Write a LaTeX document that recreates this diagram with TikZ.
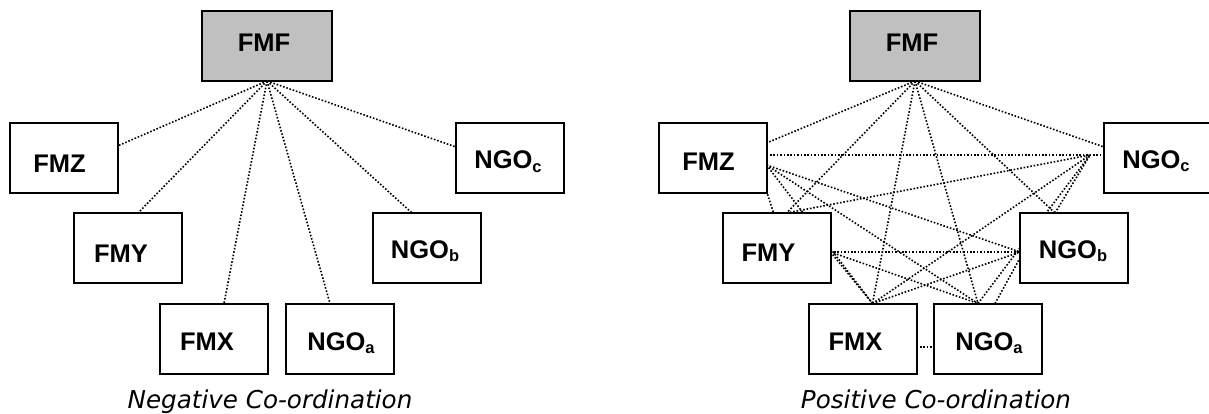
\documentclass[tikz,border=0pt]{standalone}
\usepackage{fontspec}
\setmainfont{Liberation Sans}
\newfontfamily\captionfont{DejaVu Sans}
\usetikzlibrary{calc}
\pgfdeclarelayer{links}
\pgfsetlayers{links,main}
\definecolor{fmfgray}{RGB}{192,192,192}
\tikzset{
  box/.style={draw=black, line width=2pt, fill=white, minimum width=108pt,
    minimum height=70pt, inner sep=0pt, outer sep=0pt},
  topbox/.style={box, fill=fmfgray, minimum width=130pt},
  lab/.style={font=\fontsize{25.5}{27}\selectfont\bfseries, anchor=base, inner sep=0pt},
  link/.style={line width=1.6pt, dash pattern=on 1.6pt off 1.8pt},
  captiontext/.style={font=\captionfont\itshape\fontsize{24.6}{27}\selectfont, anchor=base, inner sep=0pt}
}
\newcommand\lowsub[1]{\raisebox{-3pt}{\fontsize{16.5}{17}\selectfont #1}}
\begin{document}
\begin{tikzpicture}[x=1pt,y=-1pt]
\useasboundingbox (0,0) rectangle (1209,414);
\clip (0,0) rectangle (1209,414);

% ---------- negative co-ordination ----------
\node[topbox] (lF) at (267,46) {};
\node[box] (lZ) at (63.5,158) {};
\node[box] (lY) at (128,248) {};
\node[box] (lX) at (214,338.5) {};
\node[box] (lA) at (340,338.5) {};
\node[box] (lB) at (427,248) {};
\node[box] (lC) at (510,158) {};

\node[lab] (lFt) at ([shift={(-3pt,-6pt)}]lF.center) {FMF};
\node[lab] (lZt) at ([shift={(-4pt,-14pt)}]lZ.center) {FMZ};
\node[lab] (lYt) at ([shift={(-7pt,-14pt)}]lY.center) {FMY};
\node[lab] (lXt) at ([shift={(-7pt,-11.5pt)}]lX.center) {FMX};
\node[lab] (lAt) at ([shift={(1pt,-11.5pt)}]lA.center) {NGO\lowsub{a}};
\node[lab] (lBt) at ([shift={(-2pt,-10.5pt)}]lB.center) {NGO\lowsub{b}};
\node[lab] (lCt) at ([shift={(-2pt,-11pt)}]lC.center) {NGO\lowsub{c}};

\node[captiontext] (lcap) at (270,408) {Negative Co-ordination};

\begin{pgfonlayer}{links}
  \draw[link] (lF.south) -- ([yshift=12pt]lZ.east);
  \draw[link] (lF.south) -- ([xshift=10pt]lY.north);
  \draw[link] (lF.south) -- ([xshift=10pt]lX.north);
  \draw[link] (lF.south) -- ([xshift=-10pt]lA.north);
  \draw[link] (lF.south) -- ([xshift=-15pt]lB.north);
  \draw[link] (lF.south) -- ([yshift=11pt]lC.west);
\end{pgfonlayer}

% ---------- positive co-ordination ----------
\node[topbox] (rF) at (915,46) {};
\node[box] (rZ) at (712.5,158) {};
\node[box] (rY) at (776.5,248) {};
\node[box] (rX) at (862.5,338.5) {};
\node[box] (rA) at (988,338.5) {};
\node[box] (rB) at (1074,248) {};
\node[box] (rC) at (1158,158) {};

\node[lab] (rFt) at ([shift={(-3pt,-6pt)}]rF.center) {FMF};
\node[lab] (rZt) at ([shift={(-4pt,-13pt)}]rZ.center) {FMZ};
\node[lab] (rYt) at ([shift={(-8pt,-13pt)}]rY.center) {FMY};
\node[lab] (rXt) at ([shift={(-7pt,-11.5pt)}]rX.center) {FMX};
\node[lab] (rAt) at ([shift={(1pt,-11.5pt)}]rA.center) {NGO\lowsub{a}};
\node[lab] (rBt) at ([shift={(-1pt,-10.5pt)}]rB.center) {NGO\lowsub{b}};
\node[lab] (rCt) at ([shift={(-2pt,-10.5pt)}]rC.center) {NGO\lowsub{c}};

\node[captiontext] (rcap) at (936,408) {Positive Co-ordination};

\begin{pgfonlayer}{links}
  % from the federal ministry
  \draw[link] (rF.south) -- ([yshift=15pt]rZ.east);
  \draw[link] (rF.south) -- ([yshift=11pt]rC.west);
  \draw[link] (rF.south) -- ([xshift=10pt]rY.north);
  \draw[link] (rF.south) -- ([xshift=10pt]rX.north);
  \draw[link] (rF.south) -- ([xshift=-10pt]rA.north);
  \draw[link] (rF.south) -- ([xshift=-19pt]rB.north);
  % from FMZ
  \draw[link] ([yshift=3pt]rZ.east) -- ([yshift=3pt]rC.west);
  \draw[link] ([yshift=2pt]rZ.south east) -- ([xshift=-3pt]rY.north);
  \draw[link] ([yshift=-7pt]rZ.east) -- ([xshift=10pt]rX.north);
  \draw[link] ([yshift=-7pt]rZ.east) -- ([xshift=-10pt]rA.north);
  \draw[link] ([yshift=-7pt]rZ.east) -- ([yshift=-4pt]rB.west);
  % from FMY
  \draw[link] ([xshift=10pt]rY.north) -- ([shift={(-14pt,3pt)}]rC.west);
  \draw[link] ([yshift=-4pt]rY.east) -- ([yshift=-4pt]rB.west);
  \draw[link] ([yshift=-4pt]rY.east) -- ([xshift=-10pt]rA.north);
  \draw[link] ([yshift=-4pt]rY.east) -- ([xshift=10pt]rX.north);
  % from FMX
  \draw[link] ([yshift=-8.5pt]rX.east) -- ([yshift=-8.5pt]rA.west);
  \draw[link] ([xshift=10pt]rX.north) -- ([yshift=-4pt]rB.west);
  \draw[link] ([xshift=10pt]rX.north) -- ([shift={(-14pt,3pt)}]rC.west);
  % from the NGOs
  \draw[link] ([xshift=7pt]rA.north) -- ([yshift=-10pt]rB.west);
  \draw[link] ([xshift=-10pt]rA.north) -- ([shift={(-14pt,3pt)}]rC.west);
  \draw[link] ([xshift=-19pt]rB.north) -- ([shift={(-14pt,3pt)}]rC.west);
\end{pgfonlayer}
\end{tikzpicture}
\end{document}
